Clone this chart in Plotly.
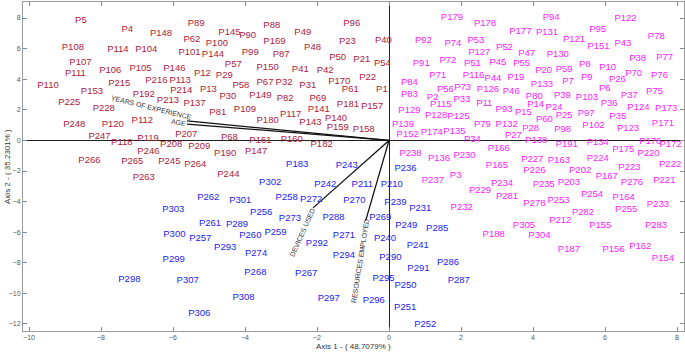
import plotly.graph_objects as go

# ---------------- data (observation scores on Axis 1 / Axis 2) ----------------
red_labels = ["P5","P4","P148","P89","P62","P108","P114","P104","P101","P107","P111","P106","P105","P146",
              "P110","P215","P216","P113","P153","P192","P214","P225","P228","P213","P137","P112","P145","P90",
              "P88","P49","P96","P100","P169","P48","P23","P144","P99","P87","P50","P57","P150","P41","P42",
              "P12","P29","P58","P67","P32","P31","P170","P61","P13","P30","P149","P82","P69","P181","P81",
              "P109","P117","P141","P140","P180","P143","P159","P40","P21","P54","P22","P1","P157","P158",
              "P248","P120","P207","P247","P118","P119","P208","P209","P246","P266","P265","P245","P264",
              "P263","P68","P161","P160","P182","P190","P147","P244"]
red_x = [-8.72,-7.43,-6.64,-5.59,-5.71,-9.09,-7.83,-7.05,-5.85,-8.88,-9.00,-8.05,-7.21,-6.27,
         -9.77,-7.80,-6.77,-6.10,-8.56,-7.12,-6.08,-9.19,-8.23,-6.45,-5.71,-7.15,-4.74,-4.16,
         -3.49,-2.63,-1.27,-5.09,-3.49,-2.36,-1.39,-5.20,-4.09,-3.23,-1.66,-4.56,-3.68,-2.70,-2.01,
         -5.42,-4.81,-4.35,-3.68,-3.15,-2.49,-1.69,-1.31,-5.25,-4.71,-3.88,-3.12,-2.21,-1.45,-4.99,
         -4.31,-3.03,-2.26,-1.78,-3.68,-2.49,-1.73,-0.39,-0.99,-0.42,-0.83,-0.36,-0.78,-1.01,
         -9.05,-7.98,-5.94,-8.35,-7.72,-6.99,-6.36,-5.58,-6.99,-8.63,-7.44,-6.41,-5.69,
         -7.12,-4.67,-3.88,-3.01,-2.18,-4.86,-4.00,-4.77]
red_y = [7.81,7.27,7.01,7.66,6.61,6.07,5.92,5.96,5.76,5.11,4.39,4.59,4.67,4.72,
         3.56,3.74,3.89,3.89,3.19,3.02,3.24,2.50,2.10,2.58,2.43,1.27,7.07,6.83,
         7.50,7.05,7.61,6.31,6.46,6.09,6.48,5.63,5.74,5.63,5.44,4.98,4.76,4.61,4.54,
         4.39,4.22,3.58,3.78,3.78,3.58,3.84,3.30,3.30,2.86,2.93,2.76,2.71,2.32,1.80,
         1.99,1.70,2.04,1.45,1.29,1.16,0.84,6.50,5.31,5.00,4.10,3.30,2.21,0.69,
         1.06,1.06,0.36,0.25,-0.12,0.10,-0.29,-0.41,-0.73,-1.34,-1.42,-1.42,-1.56,
         -2.43,0.21,-0.03,0.03,-0.25,-0.84,-0.73,-2.25]

blue_labels = ["P183","P243","P302","P242","P211","P210","P236","P262","P301","P258","P272","P270","P239",
               "P231","P303","P256","P273","P288","P269","P261","P289","P249","P285","P300","P260","P259",
               "P271","P257","P240","P292","P241","P293","P274","P294","P290","P299","P286","P291","P268",
               "P267","P298","P307","P295","P287","P250","P308","P297","P296","P251","P306","P252"]
blue_x = [-2.86,-1.48,-3.61,-2.08,-1.04,-0.23,0.15,-5.33,-4.44,-3.15,-2.47,-1.27,-0.13,
          0.56,-6.30,-3.86,-3.06,-1.85,-0.55,-5.28,-4.53,0.17,1.03,-6.27,-4.16,-3.46,
          -1.56,-5.55,-0.42,-2.31,0.49,-4.86,-4.00,-1.56,-0.27,-6.29,1.33,0.51,-4.02,
          -2.61,-7.52,-5.90,-0.46,1.63,0.15,-4.35,-1.98,-0.73,0.14,-5.58,0.70]
blue_y = [-1.60,-1.67,-2.76,-2.91,-2.91,-2.86,-1.82,-3.74,-3.93,-3.71,-3.89,-3.95,-4.04,
          -4.43,-4.50,-4.69,-5.13,-5.08,-5.02,-5.41,-5.48,-5.57,-5.78,-6.13,-6.22,-6.03,
          -6.22,-6.44,-6.44,-6.72,-6.90,-6.98,-7.37,-7.55,-7.63,-7.81,-7.96,-8.40,-8.61,
          -8.68,-9.07,-9.18,-9.05,-9.16,-9.49,-10.25,-10.31,-10.49,-10.90,-11.29,-12.01]

mag_labels = ["P179","P178","P177","P92","P74","P53","P127","P52","P47","P91","P72","P51","P45","P55",
              "P71","P116","P44","P19","P84","P56","P73","P126","P46","P83","P2","P115","P33","P11","P93",
              "P129","P128","P125","P139","P152","P174","P135","P34","P79","P132","P27","P166","P238",
              "P136","P230","P165","P237","P3","P234","P229","P281","P232","P188",
              "P94","P122","P131","P95","P121","P151","P43","P78","P130","P38","P77","P20","P59","P8",
              "P10","P70","P76","P133","P7","P9","P26","P6","P75","P80","P39","P103","P37","P36","P14",
              "P24","P124","P173","P15","P60","P25","P97","P35","P171","P28","P98","P102","P123","P138",
              "P191","P134","P176","P172","P175","P220","P227","P163","P224","P222","P226","P202","P223",
              "P167","P235","P203","P276","P221","P254","P164","P278","P253","P233","P282","P255","P305",
              "P212","P155","P283","P304","P187","P156","P162","P154"]
mag_x = [1.44,2.36,3.34,0.72,1.54,2.18,2.20,2.97,3.59,0.66,1.40,2.08,2.79,3.45,
         1.12,2.05,2.65,3.29,0.33,1.33,1.81,2.44,3.16,0.33,1.05,1.14,1.79,2.42,2.96,
         0.26,1.00,1.62,0.08,0.21,0.88,1.51,2.08,2.36,2.96,3.22,2.74,0.29,
         1.08,1.79,2.69,0.91,1.69,2.83,2.22,2.97,1.71,2.60,
         4.27,6.26,4.08,5.56,4.83,5.51,6.26,7.19,4.38,6.67,7.42,4.06,4.63,5.28,
         5.84,6.56,7.28,3.94,4.81,5.33,6.11,5.83,7.14,3.80,4.58,5.19,6.44,5.88,3.84,
         4.35,6.62,7.39,3.50,4.08,4.63,5.24,6.12,7.30,3.70,4.59,5.37,6.33,3.78,
         4.63,5.49,6.95,7.51,6.20,6.90,3.67,4.41,5.49,7.50,3.73,5.00,6.37,
         5.74,3.99,4.69,6.44,7.34,5.33,6.21,3.73,4.40,7.16,5.08,6.28,3.44,
         4.45,5.56,7.11,3.87,4.69,5.93,6.67,7.30]
mag_y = [8.03,7.61,7.11,6.50,6.35,6.50,5.76,6.07,5.70,5.05,5.20,5.05,5.11,5.00,
         4.24,4.22,4.02,4.10,3.80,3.30,3.45,3.30,3.17,2.97,2.82,2.37,2.65,2.43,2.04,
         1.96,1.62,1.54,1.01,0.36,0.51,0.58,0.03,1.01,1.01,0.29,-0.54,-0.84,
         -1.16,-1.01,-1.65,-2.65,-2.32,-2.80,-3.28,-3.67,-4.37,-6.13,
         8.05,7.99,7.07,7.27,6.57,6.13,6.35,6.78,5.59,5.37,5.44,4.54,4.61,4.93,
         4.76,4.35,4.22,3.63,3.82,4.13,4.00,3.41,3.19,2.86,2.91,2.82,2.91,2.43,2.32,
         2.17,2.17,2.10,1.80,1.34,1.60,1.78,1.56,1.12,0.75,0.73,0.95,0.80,-0.01,
         -0.29,-0.14,-0.08,-0.29,-0.58,-0.84,-1.23,-1.34,-1.21,-1.56,-1.99,-1.99,-1.75,
         -2.37,-2.91,-2.76,-2.76,-2.63,-3.56,-3.71,-4.10,-3.95,-4.22,-4.72,-4.54,-5.57,
         -5.26,-5.57,-5.57,-6.24,-7.11,-7.11,-6.94,-7.75]

# variable loadings (vector tips)
var_names = ["YEARS OF EXPERIENCE", "AGE", "DEVICES USED", "RESOURCES EMPLOYED"]
var_x = [-5.61, -5.61, -2.11, -0.65]
var_y = [1.27, 1.07, -4.41, -5.26]

x_ticks = [-10, -8, -6, -4, -2, 0, 2, 4, 6, 8]
y_ticks = [-12, -10, -8, -6, -4, -2, 0, 2, 4, 6, 8]

# ---------------- figure ----------------
FONT = "Liberation Sans, Arial, Helvetica, sans-serif"
fig = go.Figure()

for vx, vy in zip(var_x, var_y):
    fig.add_trace(go.Scatter(x=[0, vx], y=[0, vy], mode="lines",
                             line=dict(color="#111111", width=1.3),
                             hoverinfo="skip", showlegend=False))

for labels, xs, ys, col in [(red_labels, red_x, red_y, "#b0213a"),
                            (blue_labels, blue_x, blue_y, "#1c1cf5"),
                            (mag_labels, mag_x, mag_y, "#ff1aff")]:
    fig.add_trace(go.Scatter(x=xs, y=ys, mode="text", text=labels,
                             textposition="middle right",
                             textfont=dict(family=FONT, size=9.5, color=col),
                             hoverinfo="text", showlegend=False))

# variable labels, rotated along the loading direction
var_label_pos = [(-6.61, 2.16, 14), (-5.84, 1.16, 11), (-2.40, -6.05, -66), (-0.79, -7.88, -81)]
for name, (lx, ly, ang) in zip(var_names, var_label_pos):
    fig.add_annotation(x=lx, y=ly, text=name, showarrow=False, textangle=ang,
                       xanchor="center", yanchor="middle",
                       font=dict(family=FONT, size=7, color="#333333"))

fig.add_annotation(x=0.5, y=-0.047, xref="paper", yref="paper", text="Axis 1 - ( 48.7079% )",
                   showarrow=False, xanchor="center", yanchor="middle",
                   font=dict(family=FONT, size=8, color="#333333"))
fig.add_annotation(x=-0.0235, y=0.5, xref="paper", yref="paper", text="Axis 2 - ( 35.2301% )",
                   showarrow=False, textangle=-90, xanchor="center", yanchor="middle",
                   font=dict(family=FONT, size=8, color="#333333"))

axis_common = dict(showgrid=False, ticks="inside", ticklen=4, tickcolor="#888888",
                   showline=True, linecolor="#9a9a9a", linewidth=1, mirror="ticks",
                   zeroline=True, zerolinecolor="#222222", zerolinewidth=1,
                   automargin=False,
                   tickfont=dict(family=FONT, size=7, color="#555555"))

fig.update_layout(
    width=685, height=354,
    margin=dict(l=23, r=1, t=2, b=23),
    paper_bgcolor="white", plot_bgcolor="white",
    xaxis=dict(range=[-10.167, 8.194], tickvals=x_ticks, **axis_common),
    yaxis=dict(range=[-12.458, 9.046], tickvals=y_ticks, **axis_common),
    showlegend=False,
)

fig.write_html("out.html", config={"displayModeBar": False},
               post_script="document.body.style.margin='0px';")
